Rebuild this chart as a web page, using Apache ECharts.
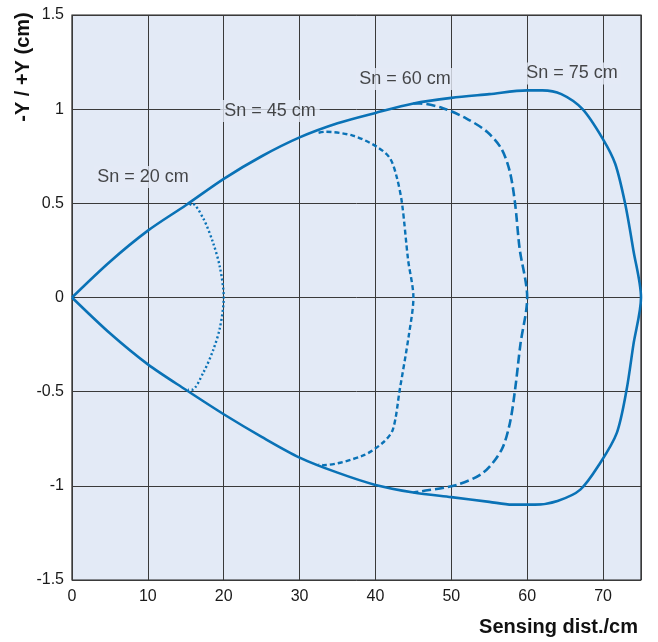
<!DOCTYPE html>
<html>
<head>
<meta charset="utf-8">
<script src="https://cdn.jsdelivr.net/npm/echarts@6/dist/echarts.min.js"></script>
<style>html,body{margin:0;padding:0;background:#fff}#c{width:658px;height:642px}</style>
</head>
<body>
<div id="c"></div>
<script>
var xTicks = [0, 10, 20, 30, 40, 50, 60, 70];
var yTicks = [-1.5, -1, -0.5, 0, 0.5, 1, 1.5];

var sn75 = [[0,0],[5,0.19],[10,0.355],[15,0.49],[20,0.63],[25,0.75],[30,0.85],[35,0.925],[40,0.98],[45,1.03],[50,1.06],[55,1.08],[60,1.1],[62,1.1],[64.5,1.08],[67.3,1.0],[70,0.84],[71.6,0.71],[72.9,0.5],[74,0.25],[75,0],
  [74,-0.25],[73.1,-0.49],[71.8,-0.72],[69.6,-0.88],[67,-1.02],[64,-1.08],[61,-1.1],[58,-1.1],[55,-1.085],[50,-1.06],[45,-1.035],[40,-0.995],[35,-0.93],[30,-0.85],[25,-0.74],[20,-0.62],[15,-0.49],[10,-0.355],[5,-0.19],[0,0]];
var sn60 = [[45,1.03],[45.9,1.03],[48.9,1.005],[52,0.95],[54.7,0.88],[56.6,0.79],[57.7,0.67],[58.4,0.5],[59,0.26],[60,0],
  [59.1,-0.25],[58.4,-0.49],[57.7,-0.67],[56.6,-0.81],[54.2,-0.93],[50.7,-0.995],[45.9,-1.03],[45,-1.035]];
var sn45 = [[32.5,0.875],[33.3,0.88],[37,0.86],[40.2,0.8],[41.9,0.74],[42.8,0.64],[43.5,0.5],[44.3,0.2],[45,0],
  [44.4,-0.2],[43.2,-0.49],[42.3,-0.7],[41,-0.77],[38.3,-0.84],[33.1,-0.89],[32.5,-0.885]];
var sn20 = [[15.5,0.49],[15.8,0.5],[17.3,0.42],[18.6,0.29],[19.5,0.16],[20,0],
  [19.5,-0.16],[18.6,-0.28],[17.3,-0.4],[15.8,-0.49],[15.3,-0.49]];
var labels = [["Sn = 20 cm",9.35,0.64],["Sn = 45 cm",26.1,0.99],["Sn = 60 cm",43.9,1.16],["Sn = 75 cm",65.9,1.19]];

var blue = '#0a72b6';
var bg = '#e3eaf6';
var chart = echarts.init(document.getElementById('c'));
function line(data, type, w) {
  return {type:'line', data:data, smooth:0.3, showSymbol:false, symbol:'none',
    lineStyle:{color:blue, width:w, type:type}, animation:false, z:3};
}
var s = [line(sn75,'solid',2.6), line(sn60,[9,4],2.6), line(sn45,[5,3],2.4), line(sn20,[2,2.5],2.4)];
s.push({type:'scatter', symbolSize:0, data:labels.map(function(l){return {value:[l[1],l[2]], name:l[0]};}),
  z:2, animation:false, silent:true,
  label:{show:true, position:'inside', formatter:function(p){return p.name;}, color:'#1a1a1a',
    textBorderWidth:0, textBorderColor:'transparent',
    fontSize:18, fontFamily:'Liberation Sans, Arial, sans-serif', backgroundColor:bg, padding:[2,4]}});
chart.setOption({
  animation:false,
  grid:{left:72, right:17, top:15, bottom:62, show:true, backgroundColor:bg, borderColor:'#222', borderWidth:1.2},
  xAxis:{type:'value', min:0, max:75, interval:10,
    axisLine:{show:false}, axisTick:{show:false},
    axisLabel:{color:'#1a1a1a', fontSize:16, fontFamily:'Liberation Sans, Arial, sans-serif', margin:9,
      formatter:function(v){return xTicks.indexOf(v)>=0 ? String(v) : '';}, showMaxLabel:false},
    splitLine:{show:true, lineStyle:{color:'#3a3a3a', width:1}}},
  yAxis:{type:'value', min:-1.5, max:1.5, interval:0.5,
    axisLine:{show:false}, axisTick:{show:false},
    axisLabel:{color:'#1a1a1a', fontSize:16, fontFamily:'Liberation Sans, Arial, sans-serif', margin:8,
      formatter:function(v){return yTicks.indexOf(v)>=0 ? String(v) : '';}},
    splitLine:{show:true, lineStyle:{color:'#3a3a3a', width:1}}},
  graphic:[
    {type:'text', x:23, y:67, rotation:Math.PI/2, style:{text:'-Y / +Y (cm)', fill:'#111', font:'bold 20px Liberation Sans, Arial, sans-serif', textAlign:'center', textVerticalAlign:'middle'}},
    {type:'text', x:638, y:627, style:{text:'Sensing dist./cm', fill:'#111', font:'bold 20px Liberation Sans, Arial, sans-serif', textAlign:'right', textVerticalAlign:'middle'}}
  ],
  series:s
});
</script>
</body>
</html>
